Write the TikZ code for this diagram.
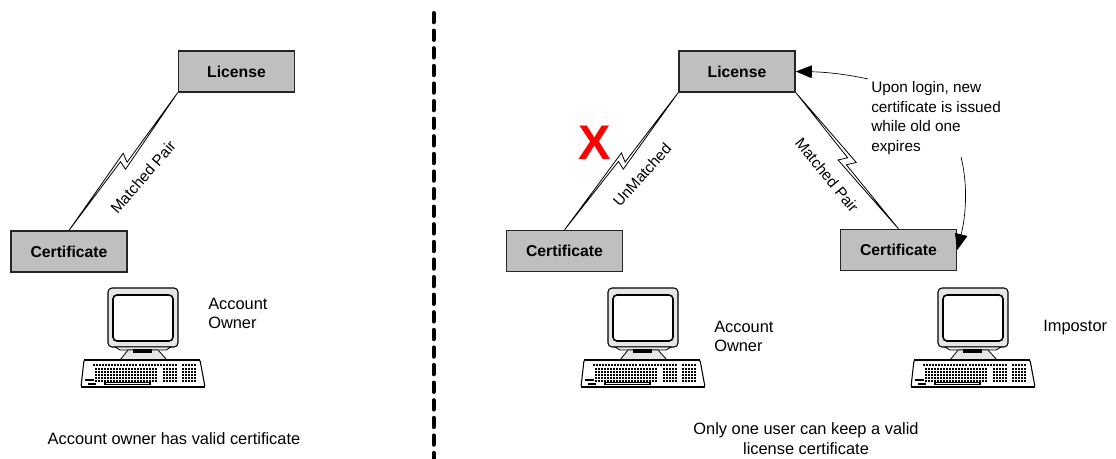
\documentclass[tikz,border=0pt]{standalone}
\usepackage{xcolor}
\usepackage{fontspec}
\setmainfont{Liberation Sans}
\usepackage{tikz}
\usetikzlibrary{calc, arrows.meta}

\definecolor{boxgray}{HTML}{BFBFBF}
\definecolor{casegray}{HTML}{E6E6E6}

\newcommand{\boltpt}[2]{($(\tikztostart)!#1!(\tikztotarget)!#2!90:(\tikztotarget)$)}

\tikzset{
    computer/.pic = {
        \draw [black, line width = 0.8pt, fill = casegray, rounded corners = 3pt] (0, 0) rectangle (70, 59);
        \draw [black, line width = 1.2pt, fill = white, rounded corners = 3pt] (5, 7) rectangle (65, 53);
        \draw [black, line width = 0.6pt, fill = casegray] (7, 59) -- (12, 62) -- (58, 62) -- (63, 59) -- cycle;
        \draw [black, line width = 0.6pt, fill = casegray] (20, 62) -- (12, 72) -- (59, 72) -- (50, 62) -- cycle;
        \fill [black] (25, 61) rectangle (44, 65);
        \draw [black, line width = 0.8pt, fill = white, rounded corners = 1pt] (-24, 72) -- (-27, 99) -- (97, 99) -- (92, 72) -- cycle;
        \draw [black, line width = 1.4pt] (-24, 72) -- (92, 72);
        \draw [black, line width = 1.2pt] (-27, 99) -- (97, 99);
        \foreach \x in {-15, -12, ..., 3, 6, 9, ..., 27, 31, 34, ..., 52, 55, 58, 61, 64, 67, 74, 77, 80, 83, 86}
            \fill [black] (\x, 76) rectangle ++(2, 2);
        \foreach \y in {80, 83, 86, 89, 92} {
            \foreach \x in {-13, -10, ..., 48}
                \fill [black] (\x, \y) rectangle ++(2.2, 2);
            \foreach \x in {55, 58, 61, 64, 67}
                \fill [black] (\x, \y) rectangle ++(2.2, 2);
            \foreach \x in {74, 77, 80, 83, 86}
                \fill [black] (\x, \y) rectangle ++(2.2, 2);
        }
        \fill [black] (-23, 91) rectangle (-14, 93);
        \fill [black] (-20, 95) rectangle (-12, 97);
        \draw [black, line width = 0.8pt, fill = white] (-3, 94.5) rectangle (42, 96.5);
    }
}

\begin{document}
\begin{tikzpicture}[x = 0.75pt, y = -0.75pt, font = \fontsize{12.3}{14.6}\selectfont]
    \tikzstyle{keybox} = [draw = black!85, line width = 1.2pt, fill = boxgray, minimum width = 87pt, minimum height = 30.5pt, inner sep = 0pt, font = \fontsize{11.8}{14}\selectfont\bfseries]
    \tikzstyle{textnote} = [inner sep = 0pt, align = left, anchor = west]
    \tikzstyle{caption} = [inner sep = 0pt, align = center]
    \tikzstyle{linktext} = [inner sep = 0pt, font = \fontsize{11.5}{14}\selectfont]
    \tikzstyle{bolt} = [draw = black, line width = 0.6pt, fill = white, to path = {-- \boltpt{.49}{2.55pt} -- \boltpt{.464}{-3.9pt} -- (\tikztotarget) -- \boltpt{.511}{-1.6pt} -- \boltpt{.527}{4.9pt} -- cycle}]
    \tikzstyle{boltright} = [draw = black, line width = 0.6pt, fill = white, to path = {-- \boltpt{.488}{1.65pt} -- \boltpt{.464}{-5.1pt} -- (\tikztotarget) -- \boltpt{.516}{-2.3pt} -- \boltpt{.54}{4.7pt} -- cycle}]
    \tikzstyle{noteline} = [draw = black, line width = 0.5pt, -{Triangle[length = 12pt, width = 9.5pt]}]

    \useasboundingbox (0, 0) rectangle (1116, 459);

    \node [keybox] (L1) at (236.5, 71.5) {License};
    \node [keybox] (C1) at (69, 251.5) {Certificate};
    \node [keybox] (L2) at (737, 71.5) {License};
    \node [keybox] (C2) at (564.5, 251) {Certificate};
    \node [keybox] (C3) at (898.5, 250) {Certificate};

    \draw [bolt] (L1.south west) to (C1.north);
    \draw [bolt] (L2.south west) to (C2.north);
    \draw [boltright] (L2.south east) to (C3.north);

    \node [linktext, rotate = 49] (T1) at (143, 177) {Matched Pair};
    \node [linktext, rotate = 48] (T2) at (642, 175) {UnMatched};
    \node [linktext, rotate = -51] (T3) at (827, 175) {Matched Pair};

    \node [inner sep = 0pt, red, font = \fontsize{36.5}{36.5}\selectfont\bfseries] (X) at (595, 143) {X};

    \node [textnote, font = \fontsize{11.5}{14.6}\selectfont] (N1) at (871, 118) {Upon login, new\\certificate is issued\\while old one\\expires};
    \coordinate (N2) at (868, 79);
    \coordinate (N3) at (961, 157);
    \draw [noteline] (N2) .. controls (845, 74) and (825, 72) .. (L2.east);
    \draw [noteline] (N3) .. controls (968, 185) and (966, 215) .. (C3.east);

    \foreach \i/\x in {1/108, 2/608, 3/938}
        \pic (PC\i) at (\x, 288) {computer};

    \node [textnote] (A1) at (208, 313.5) {Account\\Owner};
    \node [textnote] (A2) at (714, 336.5) {Account\\Owner};
    \node [textnote] (A3) at (1043, 328) {Impostor};

    \node [caption] (B1) at (174, 438.5) {Account owner has valid certificate};
    \node [caption] (B2) at (806, 438.5) {Only one user can keep a valid\\license certificate};

    \coordinate (D1) at (433.5, 13);
    \coordinate (D2) at (433.5, 459);
    \draw [black, line width = 3pt, line cap = round, dash pattern = on 7pt off 6.2pt] (D1) -- (D2);
\end{tikzpicture}
\end{document}
